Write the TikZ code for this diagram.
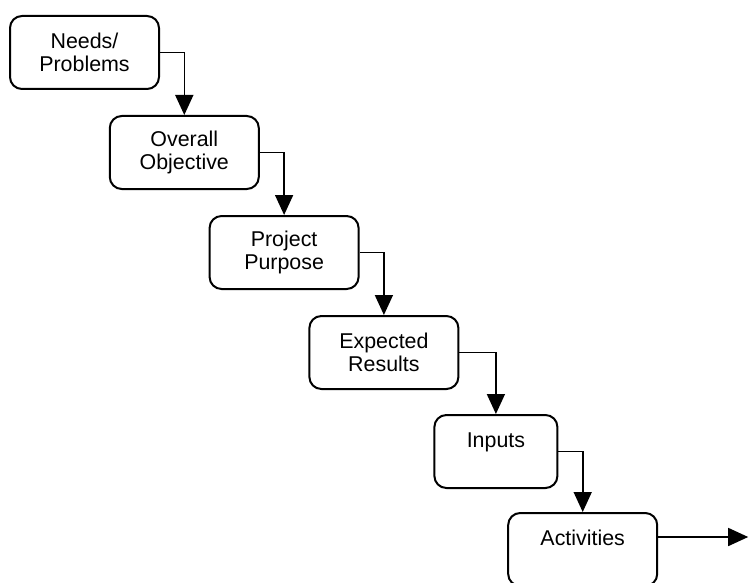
\documentclass[tikz,border=0pt]{standalone}
\usepackage{fontspec}
\setmainfont{Liberation Sans}
\usepackage{tikz}
\usetikzlibrary{arrows.meta, positioning}

\begin{document}
\begin{tikzpicture}[
  node distance=12.5pt and -25.6pt,
  box/.style={rectangle, rounded corners=6pt, draw=black, line width=1pt,
              minimum width=74.5pt, minimum height=36.5pt, align=center,
              font=\fontsize{10.7}{11.5}\selectfont},
  arrow/.style={-{Triangle[length=10pt, width=9pt]}, line width=0.8pt}
]
\useasboundingbox (0,0) rectangle (374.5pt,-291.5pt);
\clip (0,0) rectangle (374.5pt,-291.5pt);

\node[box, anchor=north west] (s1) at (4.5pt,-7.5pt) {Needs/\\Problems};
\node[box, below right=of s1] (s2) {Overall\\Objective};
\node[box, below right=of s2] (s3) {Project\\Purpose};
\node[box, below right=of s3] (s4) {Expected\\Results};
\node[box, minimum width=61.5pt, below right=12pt and -13pt of s4] (s5) {Inputs\\~};
\node[box, below right=11.5pt and -25.6pt of s5] (s6) {Activities\\~};

\coordinate (a6) at ([yshift=-12.5pt]s6.north east);
\coordinate[right=45pt of a6] (out);

\draw[arrow] (s1) -| (s2);
\draw[arrow] (s2) -| (s3);
\draw[arrow] (s3) -| (s4);
\draw[arrow] (s4) -| (s5);
\draw[arrow] (s5) -| (s6);
\draw[arrow] (a6) -- (out);
\end{tikzpicture}
\end{document}
